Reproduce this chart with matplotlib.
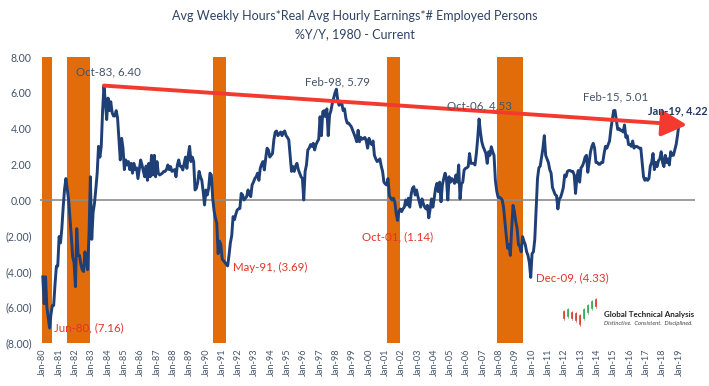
import numpy as np
import matplotlib
matplotlib.use("Agg")
import matplotlib.pyplot as plt
from matplotlib.lines import Line2D

plt.rcParams['font.family'] = ['Lato', 'DejaVu Sans']

# ---------------- data (monthly % Y/Y, Jan-80 .. Jan-19) ----------------
vals_1980s = [
    -4.3, -5.8, -4.3, -6.0, -6.6, -7.16, -6.4, -5.9, -5.9, -4.7, -3.7, -3.7,   # 1980
    -2.05, -2.4, -1.6, -0.4, 0.6, 1.2, 0.6, 0.0, -1.0, -2.05, -3.2, -3.5,     # 1981
    -4.85, -1.6, -3.1, -3.1, -3.6, -3.9, -4.0, -2.9, -3.5, -3.9, -1.9, 1.3,   # 1982
    -2.2, -0.7, -0.2, 0.6, 1.5, 3.0, 2.4, 3.0, 5.0, 6.40, 5.5, 4.5,          # 1983
    5.7, 5.0, 5.5, 4.9, 4.7, 4.7, 5.0, 4.6, 3.45, 2.24, 3.45, 2.9,           # 1984
    1.7, 2.24, 1.96, 2.15, 1.7, 2.05, 1.5, 2.05, 1.7, 1.8, 1.2, 1.7,         # 1985
    2.24, 1.96, 1.6, 1.3, 1.9, 1.1, 2.05, 1.3, 2.5, 1.4, 2.5, 1.3,           # 1986
    2.15, 1.5, 1.4, 1.45, 1.5, 1.6, 1.6, 1.7, 1.96, 1.7, 1.87, 1.6,          # 1987
    1.65, 1.7, 1.3, 1.96, 2.24, 1.9, 1.87, 1.68, 2.05, 2.4, 1.77, 2.5,       # 1988
    3.0, 2.15, 2.4, 2.15, 0.56, 0.65, 1.0, 1.6, 1.3, 1.1, 0.47, -0.28,       # 1989
]
vals_1990s = [
    0.56, 0.28, 0.65, 1.5, 1.4, 0.1, -0.6, -1.0, -1.3, -3.0, -2.3, -2.5,     # 1990
    -3.3, -3.4, -3.5, -3.6, -3.69, -3.1, -2.4, -2.0, -0.93, -1.1, -0.8, -0.56,  # 1991
    -0.5, -0.47, 0.37, 0.28, 0.0, 0.1, 0.19, 0.56, 0.3, 0.19, 0.84, 1.0,     # 1992
    1.2, 1.3, 1.5, 1.1, 1.77, 2.0, 2.15, 1.68, 2.33, 2.9, 2.8, 2.4,          # 1993
    2.5, 2.6, 3.36, 3.8, 3.86, 3.6, 3.7, 3.8, 3.6, 3.8, 3.86, 3.6,           # 1994
    3.5, 3.36, 2.5, 1.6, 1.87, 1.6, 1.9, 2.05, 1.7, 1.5, 1.3, 1.2,           # 1995
    0.0, 1.6, 1.96, 2.8, 2.9, 3.1, 3.0, 3.17, 2.8, 3.1, 3.26, 3.4,           # 1996
    4.66, 3.6, 4.94, 5.0, 4.66, 5.1, 3.6, 4.75, 5.0, 5.4, 5.7, 6.0,          # 1997
    6.2, 5.6, 5.3, 5.5, 5.4, 5.0, 5.1, 4.57, 4.3, 4.3, 4.2, 4.1,             # 1998
    3.9, 3.7, 3.5, 3.26, 3.9, 3.26, 3.5, 3.4, 3.45, 3.5, 3.3, 2.9,           # 1999
]
vals_2000s = [
    3.45, 3.2, 3.1, 3.3, 2.5, 2.3, 2.15, 2.2, 2.3, 1.9, 1.6, 1.0,            # 2000
    0.9, 0.84, 1.2, 0.24, 0.1, 0.0, 0.1, -0.1, -0.75, -1.14, -0.65, -0.5,    # 2001
    -0.65, -0.5, -0.4, 0.0, -0.28, 0.1, -0.4, 0.3, 0.65, 0.75, 0.28, 0.56,   # 2002
    0.2, -0.1, -0.4, 0.06, -0.2, -0.4, -0.5, -0.3, -1.0, -0.5, 0.06, -0.4,   # 2003
    0.1, 0.65, 0.93, 0.47, 1.0, -0.1, 0.84, 1.2, 1.5, 1.2, 0.0, 1.3,         # 2004
    1.0, 1.2, 1.1, 0.93, 1.4, 1.0, 1.96, 0.06, 0.9, 1.0, 1.68, 1.77,         # 2005
    1.8, 1.87, 2.6, 2.05, 2.05, 2.05, 1.96, 2.6, 3.45, 4.53, 3.8, 3.26,      # 2006
    2.98, 2.8, 2.6, 2.05, 2.7, 2.5, 2.98, 2.7, 2.5, 1.1, 0.5, 0.15,          # 2007
    0.15, 0.1, 0.0, -0.4, -1.2, -2.0, -2.7, -2.5, -3.1, -1.6, -0.3, -0.65,   # 2008
    -1.2, -1.6, -2.5, -2.6, -2.9, -2.05, -2.3, -2.5, -2.9, -3.1, -3.5, -4.33,  # 2009
]
vals_2010s = [
    -3.0, -2.9, -2.2, -0.5, 1.2, 1.8, 1.9, 2.4, 2.9, 3.6, 2.5, 2.3,          # 2010
    2.1, 1.7, 1.5, 0.7, 0.5, 0.3, 0.24, -0.5, 0.06, 0.15, 0.4, 0.7,          # 2011
    1.4, 1.3, 1.6, 1.65, 1.65, 1.6, 1.6, 1.4, 0.37, 1.3, 1.65, 1.0,          # 2012
    1.8, 1.9, 2.1, 2.4, 2.5, 1.55, 2.1, 2.7, 3.0, 3.17, 2.9, 2.1,            # 2013
    2.1, 2.0, 2.0, 2.1, 2.1, 2.6, 3.0, 2.9, 3.1, 3.3, 3.97, 4.5,             # 2014
    5.0, 5.01, 4.5, 3.95, 4.0, 3.9, 3.9, 3.8, 4.2, 3.5, 3.6, 3.1,            # 2015
    3.1, 3.0, 3.3, 2.9, 3.0, 3.0, 2.95, 2.9, 2.9, 2.1, 1.3, 1.1,             # 2016
    1.2, 1.1, 1.2, 1.9, 2.1, 2.6, 1.7, 2.1, 1.87, 2.2, 2.3, 2.7,             # 2017
    2.1, 1.87, 2.5, 2.1, 2.3, 1.96, 2.7, 2.5, 2.5, 2.8, 3.1, 3.6,            # 2018
    4.22,                                                                     # 2019
]
start_year = 1980

# recessions (year, month) inclusive
rec_starts = [(1980, 1), (1981, 7), (1990, 7), (2001, 3), (2007, 12)]
rec_ends = [(1980, 7), (1982, 11), (1991, 3), (2001, 11), (2009, 6)]

# labelled points: text, x (decimal year of text), y (text), colour kind
label_texts = ["Oct-83, 6.40", "Jun-80, (7.16)", "May-91, (3.69)", "Feb-98, 5.79",
               "Oct-01, (1.14)", "Oct-06, 4.53", "Dec-09, (4.33)", "Feb-15, 5.01",
               "Jan-19, 4.22"]
label_x = [1984.03, 1982.83, 1993.93, 1998.10, 2001.75, 2006.80, 2012.47, 2015.11, 2018.92]
label_y = [7.16, -7.16, -3.75, 6.60, -2.07, 5.26, -4.36, 5.76, 4.98]
label_kind = ["hi", "lo", "lo", "hi", "lo", "hi", "lo", "hi", "last"]

# trend arrow (Oct-83 peak -> beyond Jan-19)
trend_x = [1983 + 9 / 12, 2019.50]
trend_y = [6.40, 4.20]

year_ticks = list(range(1980, 2020))
ytick_vals = [-8, -6, -4, -2, 0, 2, 4, 6, 8]

# ---------------- plotting ----------------
values = np.array(vals_1980s + vals_1990s + vals_2000s + vals_2010s)
t = start_year + np.arange(len(values)) / 12.0

W, H = 709, 386
fig = plt.figure(figsize=(W / 100, H / 100), dpi=100)
ax = fig.add_axes([40 / W, 43 / H, 655 / W, 286 / H])

orange = '#E36C0A'
for (ys, ms), (ye, me) in zip(rec_starts, rec_ends):
    a = ys + (ms - 1) / 12 - 1 / 24
    b = ye + (me - 1) / 12 + 1 / 24
    ax.axvspan(a, b, color=orange, lw=0, zorder=1)

ax.axhline(0, color='#8C8C8C', lw=1.2, zorder=2)
ax.plot(t, values, color='#1F3F77', lw=2.1, zorder=3, solid_joinstyle='round')

ax.annotate('', xy=(trend_x[1], trend_y[1]), xytext=(trend_x[0], trend_y[0]),
            arrowprops=dict(arrowstyle='-|>,head_length=1.35,head_width=0.7',
                            mutation_scale=11.5, lw=2.8, color='#F43A2E',
                            shrinkA=0, shrinkB=0), zorder=4)

colors = {'hi': '#44546A', 'lo': '#E0352B', 'last': '#1F3864'}
for txt, x, y, k in zip(label_texts, label_x, label_y, label_kind):
    ax.text(x, y, txt, ha='center', va='center',
            fontsize=7.8 if k == 'last' else 8.3,
            color=colors[k], fontweight='bold' if k == 'last' else 'normal', zorder=5)

ax.set_xlim(1979.828, 2019.99)
ax.set_ylim(-8, 8)
ax.set_xticks(year_ticks)
ax.set_xticklabels([f"Jan-{y % 100:02d}" for y in year_ticks], rotation=90,
                   fontsize=6.6, color='#44546A')
ax.set_yticks(ytick_vals)
ax.set_yticklabels([f"{v:.2f}" if v >= 0 else f"({abs(v):.2f})" for v in ytick_vals],
                   fontsize=7.6, color='#44546A')
ax.tick_params(length=0, pad=6)
ax.tick_params(axis='x', pad=4)
for s in ax.spines.values():
    s.set_visible(False)

fig.text(355 / W, 1 - 16 / H, "Avg Weekly Hours*Real Avg Hourly Earnings*# Employed Persons",
         ha='center', va='center', fontsize=9.0, color='#2E4364')
fig.text(355 / W, 1 - 34 / H, "%Y/Y, 1980 - Current",
         ha='center', va='center', fontsize=9.0, color='#2E4364')

# logo
fig.text(604 / W, 1 - 314 / H, "Global Technical Analysis", ha='left', va='center',
         fontsize=5.8, fontweight='bold', color='#222222')
fig.text(604 / W, 1 - 323 / H, "Distinctive.  Consistent.  Disciplined.", ha='left',
         va='center', fontsize=4.2, style='italic', color='#444444')
candle_x = [564, 568, 572, 576, 580, 584, 588, 592, 596]
candle_lo = [318, 316, 318, 320, 324, 318, 312, 308, 306]
candle_hi = [312, 310, 313, 314, 316, 310, 306, 302, 300]
candle_c = ['#D93A2B', '#2DAA4A', '#D93A2B', '#D93A2B', '#D93A2B', '#2DAA4A',
            '#2DAA4A', '#2DAA4A', '#D93A2B']
for cx, lo, hi, cc in zip(candle_x, candle_lo, candle_hi, candle_c):
    fig.add_artist(Line2D([cx / W, cx / W], [1 - lo / H, 1 - hi / H], color=cc, lw=1.2))
    fig.add_artist(Line2D([cx / W, cx / W], [1 - (lo + 2) / H, 1 - (hi - 2) / H],
                          color=cc, lw=0.4))

fig.savefig('out.png', dpi=100)
